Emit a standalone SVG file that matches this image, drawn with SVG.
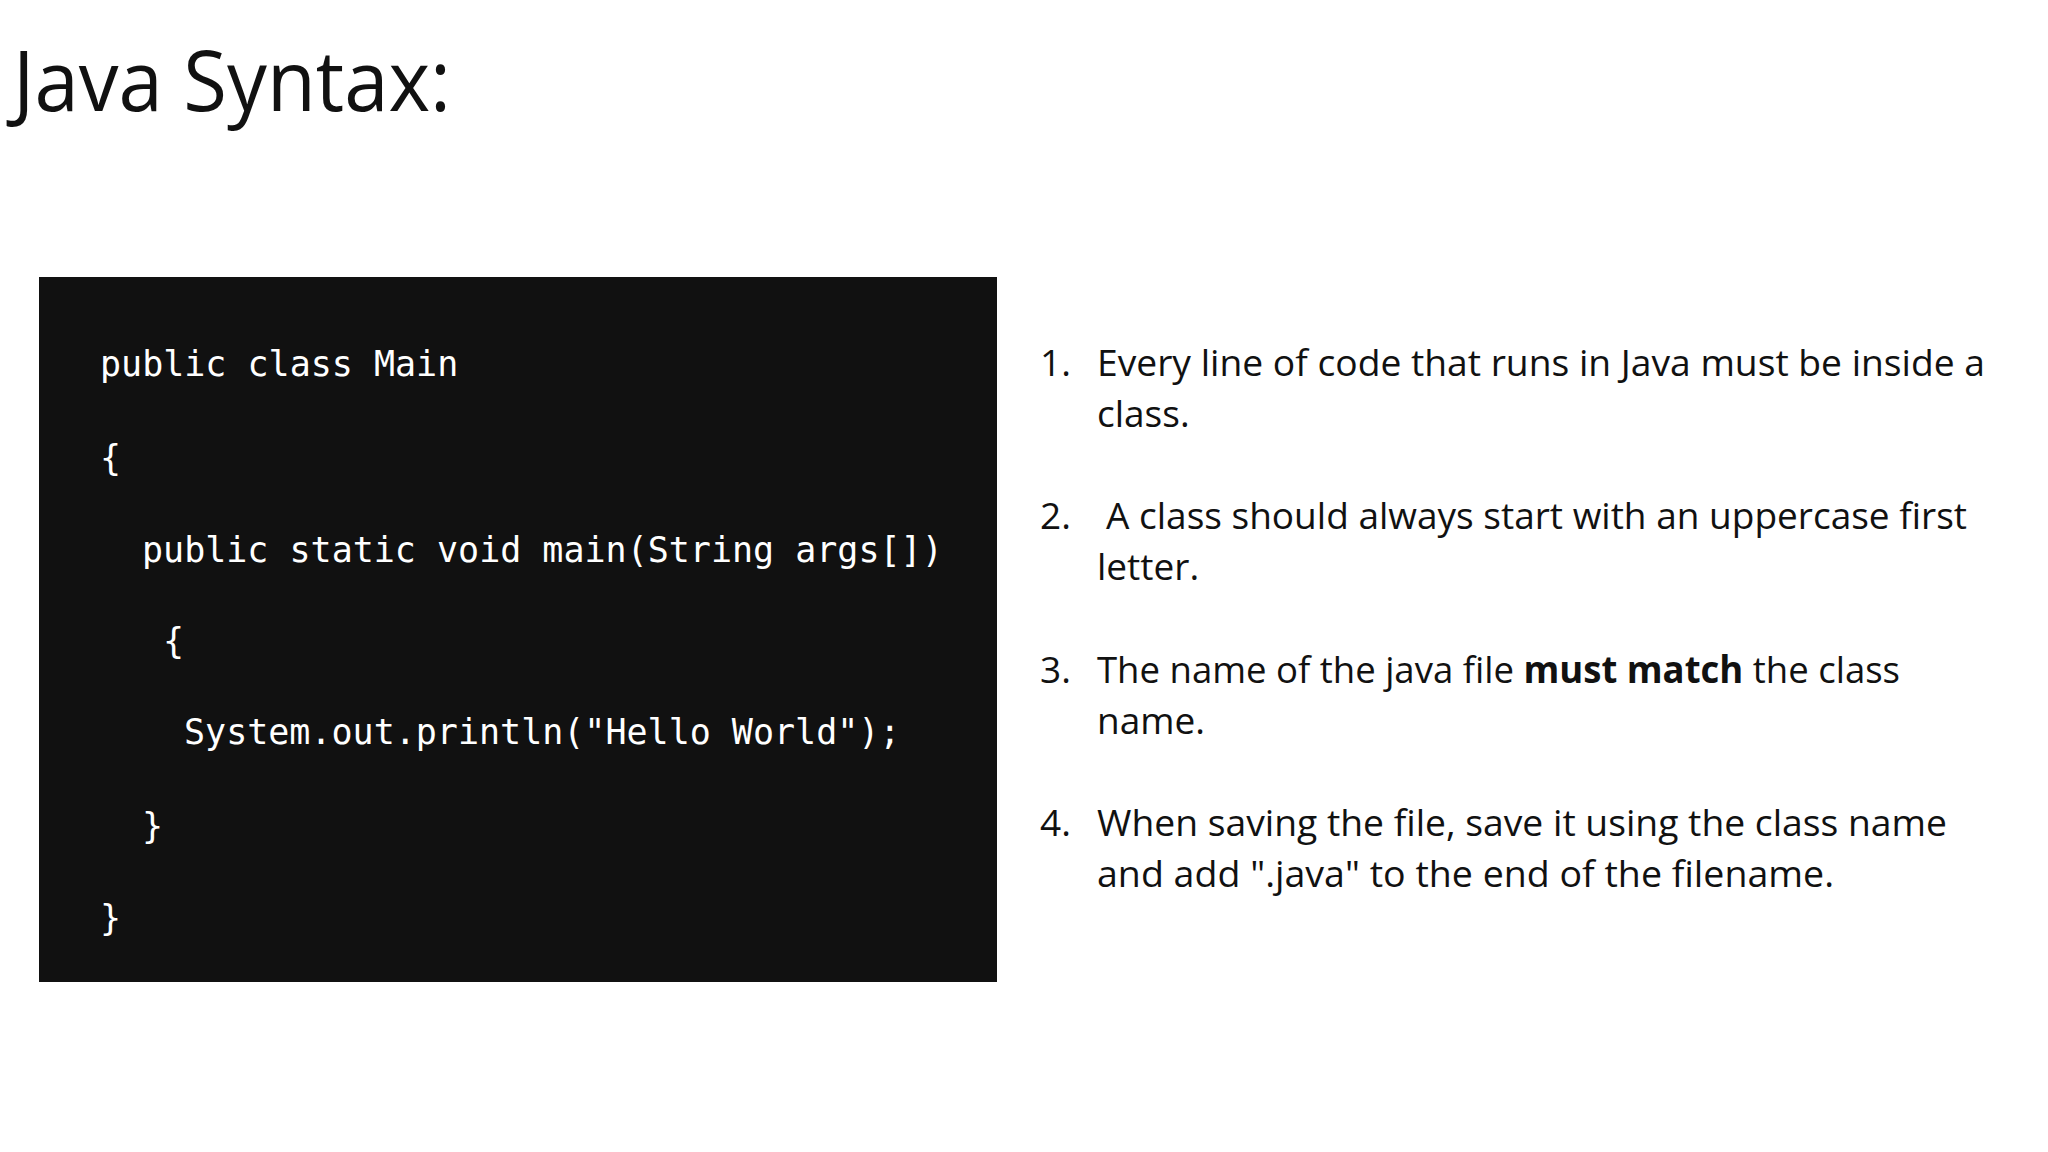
<svg xmlns="http://www.w3.org/2000/svg" width="2048" height="1152" viewBox="0 0 2048 1152">
<style>
.code{font-family:"DejaVu Sans Mono","Liberation Mono",monospace;font-size:35px;fill:#fff}
.t{font-family:"Open Sans","Liberation Sans",sans-serif;font-size:37px;fill:#111}
</style>
<rect width="2048" height="1152" fill="#fff"/>
<text x="13" y="111" font-family="'Open Sans','Liberation Sans',sans-serif" font-size="84" fill="#111" textLength="438" lengthAdjust="spacingAndGlyphs">Java Syntax:</text>
<g id="code">
<rect x="39" y="277" width="958" height="705" fill="#111"/>
<text class="code" x="100" y="376">public class Main</text>
<text class="code" x="100" y="470">{</text>
<text class="code" x="142" y="562">public static void main(String args[])</text>
<text class="code" x="163" y="653">{</text>
<text class="code" x="184" y="744">System.out.println("Hello World");</text>
<text class="code" x="142" y="838">}</text>
<text class="code" x="100" y="930">}</text>
</g>
<g id="list">
<text class="t" x="1040" y="376">1.</text>
<text class="t" x="1097" y="376" textLength="888" lengthAdjust="spacingAndGlyphs">Every line of code that runs in Java must be inside a</text>
<text class="t" x="1097" y="427">class.</text>
<text class="t" x="1040" y="529">2.</text>
<text class="t" x="1106" y="529" textLength="861" lengthAdjust="spacingAndGlyphs">A class should always start with an uppercase first</text>
<text class="t" x="1097" y="580">letter.</text>
<text class="t" x="1040" y="683">3.</text>
<text class="t" x="1097" y="683" textLength="803" lengthAdjust="spacingAndGlyphs">The name of the java file <tspan font-weight="bold">must match</tspan> the class</text>
<text class="t" x="1097" y="734">name.</text>
<text class="t" x="1040" y="836">4.</text>
<text class="t" x="1097" y="836" textLength="850" lengthAdjust="spacingAndGlyphs">When saving the file, save it using the class name</text>
<text class="t" x="1097" y="887" textLength="737" lengthAdjust="spacingAndGlyphs">and add ".java" to the end of the filename.</text>
</g>
</svg>
